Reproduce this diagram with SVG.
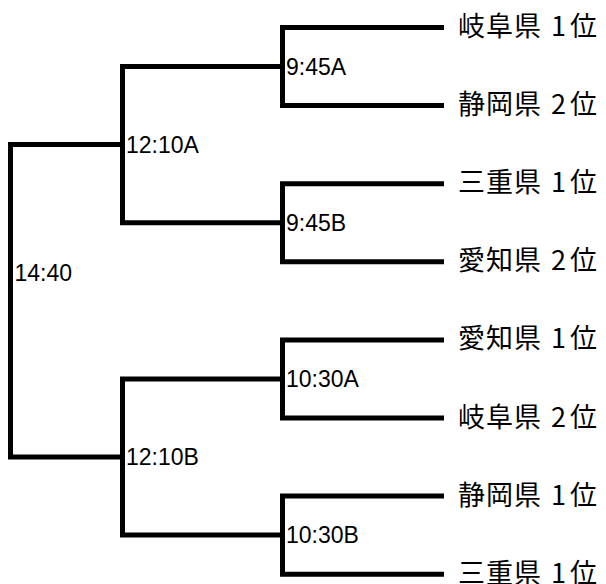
<svg xmlns="http://www.w3.org/2000/svg" width="606" height="584" viewBox="0 0 606 584">
<style>
.ln{fill:none;stroke:#000;stroke-width:5;stroke-linejoin:miter;stroke-linecap:butt}
.lbl{font-family:"Liberation Sans",Arial,sans-serif;font-size:23px;fill:#000}
.team{font-family:"Noto Sans CJK JP","Noto Sans CJK SC",sans-serif;font-size:27px;fill:#000}
</style>
<rect width="606" height="584" fill="#fff"/>
<g id="connectors">
<path class="ln" d="M444 27.5 H282.5 V105.6 H444"/>
<path class="ln" d="M444 183.7 H282.5 V261.8 H444"/>
<path class="ln" d="M444 339.9 H282.5 V418 H444"/>
<path class="ln" d="M444 496.1 H282.5 V574.2 H444"/>
<path class="ln" d="M282.5 66.5 H122.5 V222.7 H282.5"/>
<path class="ln" d="M282.5 379 H122.5 V535.1 H282.5"/>
<path class="ln" d="M122.5 144.6 H10.5 V457 H122.5"/>
</g>
<g id="m945A"><text class="lbl" x="286" y="74.5">9:45A</text></g>
<g id="m945B"><text class="lbl" x="286" y="230.7">9:45B</text></g>
<g id="m1030A"><text class="lbl" x="286" y="387">10:30A</text></g>
<g id="m1030B"><text class="lbl" x="286" y="543.1">10:30B</text></g>
<g id="m1210A"><text class="lbl" x="126" y="152.6">12:10A</text></g>
<g id="m1210B"><text class="lbl" x="126" y="465">12:10B</text></g>
<g id="m1440"><text class="lbl" x="14.5" y="280.8">14:40</text></g>
<g id="t1"><text class="team" x="458 486 514 542 551 570" y="36">岐阜県 1位</text></g>
<g id="t2"><text class="team" x="458 486 514 542 551 570" y="114.1">静岡県 2位</text></g>
<g id="t3"><text class="team" x="458 486 514 542 551 570" y="192.2">三重県 1位</text></g>
<g id="t4"><text class="team" x="458 486 514 542 551 570" y="270.3">愛知県 2位</text></g>
<g id="t5"><text class="team" x="458 486 514 542 551 570" y="348.4">愛知県 1位</text></g>
<g id="t6"><text class="team" x="458 486 514 542 551 570" y="426.5">岐阜県 2位</text></g>
<g id="t7"><text class="team" x="458 486 514 542 551 570" y="504.6">静岡県 1位</text></g>
<g id="t8"><text class="team" x="458 486 514 542 551 570" y="582.7">三重県 1位</text></g>
</svg>
